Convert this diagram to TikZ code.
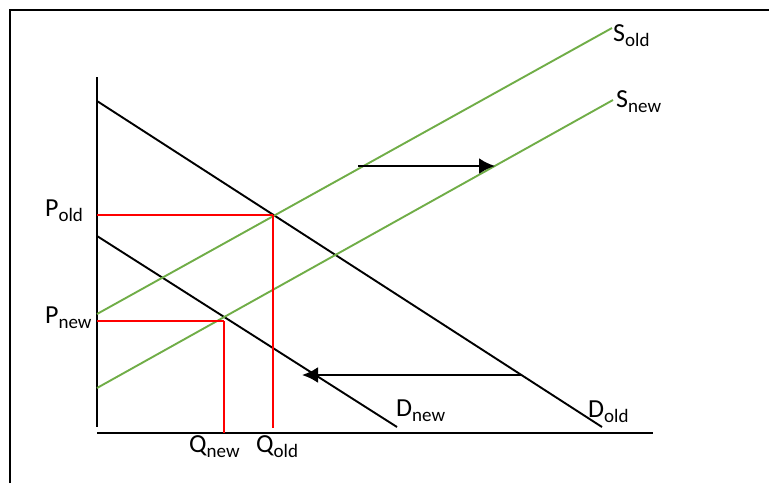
\documentclass[tikz,border=0pt]{standalone}
\usepackage{fontspec}
\setmainfont{Carlito}
\usetikzlibrary{arrows.meta}
\newcommand{\lblsub}[2]{{\fontsize{26}{29}\selectfont #1}\raisebox{-5pt}{\fontsize{19}{22}\selectfont #2}}
\begin{document}
\begin{tikzpicture}[x=1pt,y=-1pt,
  frame/.style={line width=2.2pt},
  axis/.style={line width=2.4pt},
  demand/.style={line width=1.9pt,black},
  supply/.style={line width=1.9pt,color={rgb,255:red,112;green,173;blue,71}},
  guide/.style={line width=2pt,red},
  shiftarrow/.style={line width=2.4pt,-{Latex[length=16pt,width=16pt]}},
  lbl/.style={anchor=base west,inner sep=0pt}]
\useasboundingbox (0,0) rectangle (769,483);
% frame
\coordinate (f1) at (10,483);
\coordinate (f2) at (10,10);
\coordinate (f3) at (769,10);
\draw[frame] (f1) -- (f2) -- (f3);
% axes
\coordinate (ytop) at (97,77);
\coordinate (ybot) at (97,427);
\coordinate (xl) at (97,433);
\coordinate (xr) at (653,433);
\draw[axis] (ytop) -- (ybot);
\draw[axis] (xl) -- (xr);
% curves
\coordinate (dold1) at (97,101);
\coordinate (dold2) at (602,427);
\coordinate (dnew1) at (97,236);
\coordinate (dnew2) at (397,427);
\coordinate (sold1) at (97,314);
\coordinate (sold2) at (612,28);
\coordinate (snew1) at (97,388);
\coordinate (snew2) at (613,100);
\draw[demand] (dold1) -- (dold2);
\draw[demand] (dnew1) -- (dnew2);
\draw[supply] (sold1) -- (sold2);
\draw[supply] (snew1) -- (snew2);
% guides
\coordinate (eold) at (273,215);
\coordinate (enew) at (223.5,321);
\coordinate (qoldb) at (273,428);
\draw[guide] (eold) -- (eold -| ytop);
\draw[guide] (eold) -- (qoldb);
\draw[guide] (enew) -- (enew -| ytop);
\draw[guide] (enew) -- (enew |- xl);
% shift arrows
\coordinate (a1s) at (358,166);
\coordinate (a1e) at (495,166);
\coordinate (a2s) at (522,375);
\coordinate (a2e) at (302,375);
\draw[shiftarrow] (a1s) -- (a1e);
\draw[shiftarrow] (a2s) -- (a2e);
% labels
\node[lbl] (pold) at (45,216) {\lblsub{P}{old}};
\node[lbl] (pnew) at (45,323) {\lblsub{P}{new}};
\node[lbl] (qnew) at (189,452) {\lblsub{Q}{new}};
\node[lbl] (qold) at (256,452) {\lblsub{Q}{old}};
\node[lbl] (dnewl) at (396,416) {\lblsub{D}{new}};
\node[lbl] (doldl) at (588,417) {\lblsub{D}{old}};
\node[lbl] (soldl) at (613,41) {\lblsub{S}{old}};
\node[lbl] (snewl) at (616,107) {\lblsub{S}{new}};
\end{tikzpicture}
\end{document}
